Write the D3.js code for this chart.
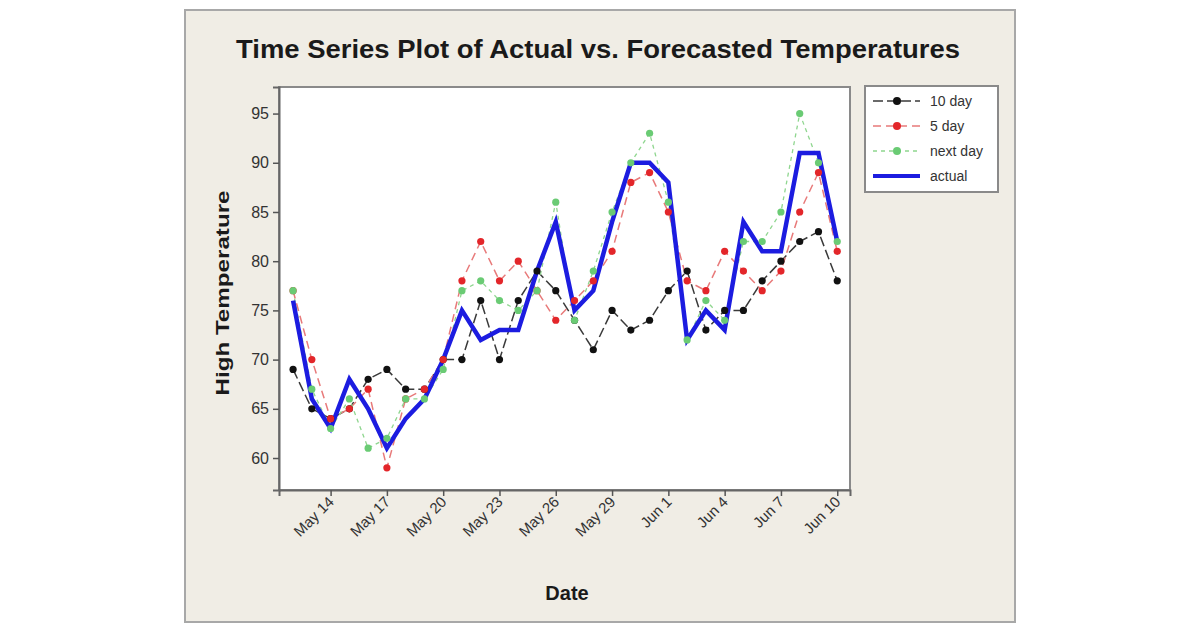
<!DOCTYPE html>
<html><head><meta charset="utf-8">
<script src="https://cdn.jsdelivr.net/npm/d3@7"></script>
<style>html,body{margin:0;padding:0;background:#fff;} svg{display:block}</style>
</head><body>
<svg id="chart" width="1200" height="629"></svg>
<script>
const dates = ["2013-05-12","2013-05-13","2013-05-14","2013-05-15","2013-05-16","2013-05-17","2013-05-18","2013-05-19","2013-05-20","2013-05-21","2013-05-22","2013-05-23","2013-05-24","2013-05-25","2013-05-26","2013-05-27","2013-05-28","2013-05-29","2013-05-30","2013-05-31","2013-06-01","2013-06-02","2013-06-03","2013-06-04","2013-06-05","2013-06-06","2013-06-07","2013-06-08","2013-06-09","2013-06-10"];
const tenDay  = [69,65,64,65,68,69,67,67,70,70,76,70,76,79,77,74,71,75,73,74,77,79,73,75,75,78,80,82,83,78];
const fiveDay = [77,70,64,65,67,59,66,67,70,78,82,78,80,77,74,76,78,81,88,89,85,78,77,81,79,77,79,85,89,81];
const nextDay = [77,67,63,66,61,62,66,66,69,77,78,76,75,77,86,74,79,85,90,93,86,72,76,74,82,82,85,95,90,82];
const actual  = [76,66,63,68,65,61,64,66,70,75,72,73,73,79,84,75,77,84,90,90,88,72,75,73,84,81,81,91,91,82];
const yTicks = [60,65,70,75,80,85,90,95];
const xTicks = ["2013-05-14","2013-05-17","2013-05-20","2013-05-23","2013-05-26","2013-05-29","2013-06-01","2013-06-04","2013-06-07","2013-06-10"];
const seriesNames = ["10 day","5 day","next day","actual"];

const svg = d3.select("#chart");
const font = "'Liberation Sans', Arial, sans-serif";
const parse = d3.utcParse("%Y-%m-%d");
const dts = dates.map(parse);
const DAY = 86400000;

const L = 279, R = 850, T = 87, B = 490;

// outer frame
svg.append("rect").attr("x",185).attr("y",10).attr("width",830).attr("height",612)
  .attr("fill","#f0ede5").attr("stroke","#a8a8a8").attr("stroke-width",2);

// title
svg.append("text").attr("x",598).attr("y",58).attr("text-anchor","middle")
  .attr("font-family",font).attr("font-weight","bold").attr("font-size",25)
  .attr("fill","#1a1a1a").attr("textLength",724).attr("lengthAdjust","spacingAndGlyphs")
  .text("Time Series Plot of Actual vs. Forecasted Temperatures");

// plot area
svg.append("rect").attr("x",L).attr("y",T).attr("width",R-L).attr("height",B-T)
  .attr("fill","#fff").attr("stroke","#8a8a8a").attr("stroke-width",2);

const x = d3.scaleUtc()
  .domain([new Date(dts[0].getTime()-0.75*DAY), new Date(dts[dts.length-1].getTime()+0.68*DAY)])
  .range([L,R]);
const y = d3.scaleLinear().domain([56.75,97.7]).range([B,T]);

// axes
const fmt = d3.utcFormat("%b %-d");
const xAxis = d3.axisBottom(x).tickValues(xTicks.map(parse)).tickFormat(fmt).tickSize(6).tickPadding(4);
const gx = svg.append("g").attr("transform",`translate(0,${B})`).call(xAxis);
gx.select(".domain").attr("stroke","#666").attr("stroke-width",2);
gx.selectAll(".tick line").attr("stroke","#555").attr("stroke-width",1.5);
gx.selectAll(".tick text").attr("font-family",font).attr("font-size",15).attr("fill","#333")
  .attr("text-anchor","end").attr("dy","0.35em")
  .attr("transform","translate(-7,2) rotate(-45)");

const yAxis = d3.axisLeft(y).tickValues(yTicks).tickSize(6).tickPadding(4);
const gy = svg.append("g").attr("transform",`translate(${L},0)`).call(yAxis);
gy.select(".domain").attr("stroke","#666").attr("stroke-width",2);
gy.selectAll(".tick line").attr("stroke","#555").attr("stroke-width",1.5);
gy.selectAll(".tick text").attr("font-family",font).attr("font-size",16).attr("fill","#333");

// axis labels
svg.append("text").attr("x",567).attr("y",600).attr("text-anchor","middle")
  .attr("font-family",font).attr("font-weight","bold").attr("font-size",20).attr("fill","#1a1a1a")
  .text("Date");
svg.append("text").attr("transform","translate(229,293) rotate(-90)").attr("text-anchor","middle")
  .attr("font-family",font).attr("font-weight","bold").attr("font-size",18).attr("fill","#1a1a1a")
  .attr("textLength",205).attr("lengthAdjust","spacingAndGlyphs")
  .text("High Temperature");

const styles = [
  {vals: tenDay,  line:"#3a3a3a", dot:"#111",    dash:"10,4", w:1.5},
  {vals: fiveDay, line:"#e87a7a", dot:"#e3262a", dash:"8,5",  w:1.5},
  {vals: nextDay, line:"#8fd68f", dot:"#6acb74", dash:"4,4",  w:1.3},
];
const lineGen = vals => d3.line().x((d,i)=>x(dts[i])).y(d=>y(d))(vals);

const gLines = svg.append("g");
styles.forEach(s => {
  gLines.append("path").attr("d",lineGen(s.vals)).attr("fill","none")
    .attr("stroke",s.line).attr("stroke-width",s.w).attr("stroke-dasharray",s.dash);
});
svg.append("path").attr("d",lineGen(actual)).attr("fill","none")
  .attr("stroke","#1c1ce0").attr("stroke-width",4.5).attr("stroke-linejoin","miter");
styles.forEach(s => {
  svg.append("g").selectAll("circle").data(s.vals).join("circle")
    .attr("cx",(d,i)=>x(dts[i])).attr("cy",d=>y(d)).attr("r",3.6).attr("fill",s.dot);
});

// legend
const lg = svg.append("g");
lg.append("rect").attr("x",865).attr("y",86).attr("width",133).attr("height",106)
  .attr("fill","#fff").attr("stroke","#8a8a8a").attr("stroke-width",2);
const rowsY = [101,126,151,176];
seriesNames.forEach((name,i) => {
  const yy = rowsY[i];
  if (i < 3) {
    const s = styles[i];
    lg.append("line").attr("x1",873).attr("x2",920).attr("y1",yy).attr("y2",yy)
      .attr("stroke",s.line).attr("stroke-width",s.w).attr("stroke-dasharray",s.dash);
    lg.append("circle").attr("cx",897).attr("cy",yy).attr("r",4).attr("fill",s.dot);
  } else {
    lg.append("line").attr("x1",873).attr("x2",920).attr("y1",yy).attr("y2",yy)
      .attr("stroke","#1c1ce0").attr("stroke-width",4);
  }
  lg.append("text").attr("x",930).attr("y",yy).attr("dy","0.35em")
    .attr("font-family",font).attr("font-size",14).attr("fill","#333").text(name);
});
</script>
</body></html>
